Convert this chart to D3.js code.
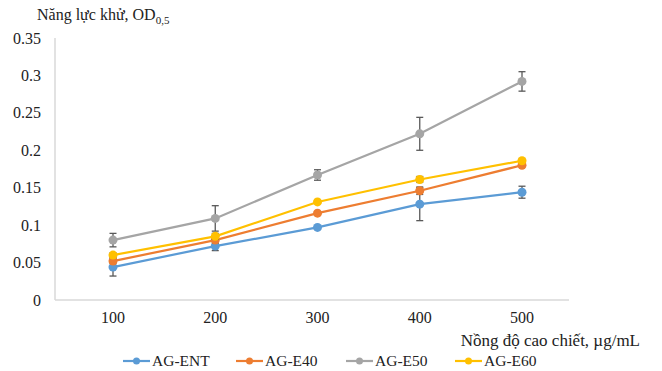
<!DOCTYPE html>
<html>
<head>
<meta charset="utf-8">
<script src="https://cdnjs.cloudflare.com/ajax/libs/d3/7.8.5/d3.min.js"></script>
<style>
  body { margin: 0; background: #fff; }
</style>
</head>
<body>
<div id="chart"></div>
<script>
var concentrations = [100, 200, 300, 400, 500];
var seriesNames = ['AG-ENT', 'AG-E40', 'AG-E50', 'AG-E60'];
var seriesColors = ['#5b9bd5', '#ed7d31', '#a5a5a5', '#ffc000'];

var entValues = [0.044, 0.072, 0.097, 0.128, 0.144];
var e40Values = [0.052, 0.080, 0.116, 0.146, 0.180];
var e50Values = [0.080, 0.109, 0.167, 0.222, 0.292];
var e60Values = [0.060, 0.085, 0.131, 0.161, 0.186];

var entErrors = [0.012, 0.006, 0.002, 0.022, 0.008];
var e40Errors = [0.003, 0.004, 0.002, 0.005, 0.002];
var e50Errors = [0.009, 0.017, 0.007, 0.022, 0.013];
var e60Errors = [0.003, 0.004, 0.002, 0.004, 0.002];

var yTicks = [0, 0.05, 0.1, 0.15, 0.2, 0.25, 0.3, 0.35];

var allValues = [entValues, e40Values, e50Values, e60Values];
var allErrors = [entErrors, e40Errors, e50Errors, e60Errors];

var width = 662, height = 371;

var svg = d3.select('#chart')
    .append('svg')
    .attr('width', width)
    .attr('height', height)
    .style('font-family', '"Liberation Serif", "Times New Roman", serif');

var x = d3.scalePoint()
    .domain(concentrations)
    .range([113, 522]);

var y = d3.scaleLinear()
    .domain([0, 0.35])
    .range([300, 38]);

// axes lines
svg.append('line')
    .attr('x1', 55).attr('x2', 55)
    .attr('y1', y(0.35)).attr('y2', y(0))
    .attr('stroke', '#d9d9d9').attr('stroke-width', 1.5);

svg.append('line')
    .attr('x1', 55).attr('x2', 569)
    .attr('y1', y(0)).attr('y2', y(0))
    .attr('stroke', '#d9d9d9').attr('stroke-width', 1.5);

// y tick labels
svg.selectAll('.ytick')
    .data(yTicks)
    .enter()
    .append('text')
    .attr('class', 'ytick')
    .attr('x', 41)
    .attr('y', function (d) { return y(d); })
    .attr('dy', '0.35em')
    .attr('text-anchor', 'end')
    .attr('font-size', 16)
    .attr('fill', '#222')
    .text(function (d) { return d3.format('')(d); });

// x tick labels
svg.selectAll('.xtick')
    .data(concentrations)
    .enter()
    .append('text')
    .attr('class', 'xtick')
    .attr('x', function (d) { return x(d); })
    .attr('y', 323)
    .attr('text-anchor', 'middle')
    .attr('font-size', 16)
    .attr('fill', '#222')
    .text(function (d) { return d; });

// axis titles
var yTitle = svg.append('text')
    .attr('x', 37)
    .attr('y', 20)
    .attr('font-size', 16)
    .attr('fill', '#222');
yTitle.append('tspan').text('Năng lực khử, OD');
yTitle.append('tspan').attr('font-size', 11).attr('dy', 4).text('0,5');

svg.append('text')
    .attr('x', 640)
    .attr('y', 346)
    .attr('text-anchor', 'end')
    .attr('font-size', 17)
    .attr('fill', '#222')
    .text('Nồng độ cao chiết, µg/mL');

// series
var line = d3.line()
    .x(function (d, i) { return x(concentrations[i]); })
    .y(function (d) { return y(d); });

for (var s = 0; s < seriesNames.length; s++) {
    var g = svg.append('g');
    var vals = allValues[s], errs = allErrors[s];

    g.append('path')
        .datum(vals)
        .attr('d', line)
        .attr('fill', 'none')
        .attr('stroke', seriesColors[s])
        .attr('stroke-width', 2.2);

    for (var i = 0; i < vals.length; i++) {
        var cx = x(concentrations[i]);
        var yHi = y(vals[i] + errs[i]), yLo = y(vals[i] - errs[i]);
        g.append('line')
            .attr('x1', cx).attr('x2', cx).attr('y1', yHi).attr('y2', yLo)
            .attr('stroke', '#595959').attr('stroke-width', 1.3);
        g.append('line')
            .attr('x1', cx - 3.5).attr('x2', cx + 3.5).attr('y1', yHi).attr('y2', yHi)
            .attr('stroke', '#595959').attr('stroke-width', 1.3);
        g.append('line')
            .attr('x1', cx - 3.5).attr('x2', cx + 3.5).attr('y1', yLo).attr('y2', yLo)
            .attr('stroke', '#595959').attr('stroke-width', 1.3);
    }

    g.selectAll('circle')
        .data(vals)
        .enter()
        .append('circle')
        .attr('cx', function (d, i) { return x(concentrations[i]); })
        .attr('cy', function (d) { return y(d); })
        .attr('r', 4.5)
        .attr('fill', seriesColors[s]);
}

// legend
var legendX = [123, 236, 346, 455];
for (var s = 0; s < seriesNames.length; s++) {
    var lg = svg.append('g').attr('transform', 'translate(' + legendX[s] + ',361)');
    lg.append('line')
        .attr('x1', 0).attr('x2', 27).attr('y1', 0).attr('y2', 0)
        .attr('stroke', seriesColors[s]).attr('stroke-width', 2.2);
    lg.append('circle')
        .attr('cx', 13.5).attr('cy', 0).attr('r', 3.5)
        .attr('fill', seriesColors[s]);
    lg.append('text')
        .attr('x', 29).attr('y', 0).attr('dy', '0.35em')
        .attr('font-size', 15.5)
        .attr('fill', '#222')
        .text(seriesNames[s]);
}
</script>
</body>
</html>
